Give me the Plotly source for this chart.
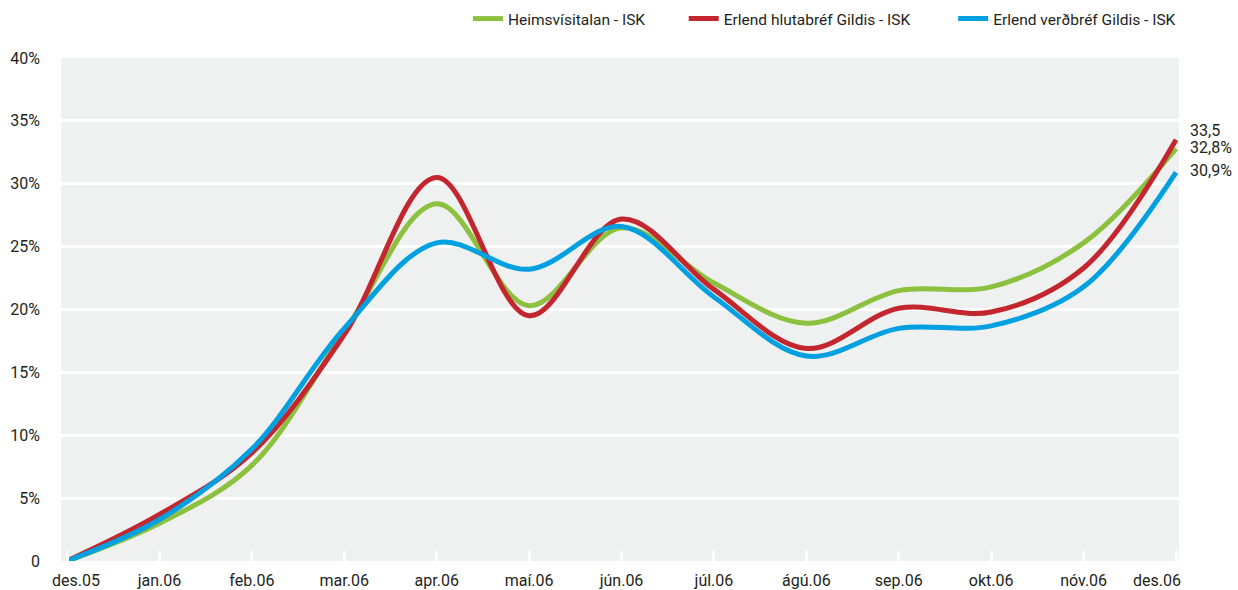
import plotly.graph_objects as go

# monthly points, des.05 -> des.06 (percent)
months = ["des.05", "jan.06", "feb.06", "mar.06", "apr.06", "maí.06", "jún.06",
          "júl.06", "ágú.06", "sep.06", "okt.06", "nóv.06", "des.06"]
heims = [0, 3.0, 7.6, 18.2, 28.4, 20.3, 26.5, 22.1, 18.9, 21.5, 21.8, 25.3, 32.8]
hluta = [0, 3.7, 8.6, 18.0, 30.5, 19.5, 27.2, 21.6, 16.9, 20.1, 19.8, 23.3, 33.5]
verd = [0, 3.3, 8.9, 18.5, 25.3, 23.2, 26.6, 21.0, 16.3, 18.5, 18.7, 21.8, 30.9]

y_ticks = [0, 5, 10, 15, 20, 25, 30, 35, 40]
y_labels = ["0", "5%", "10%", "15%", "20%", "25%", "30%", "35%", "40%"]
end_labels = ["32,8%", "33,5", "30,9%"]

GREEN = "#8cc13f"
RED = "#c3262e"
BLUE = "#00a0e1"
TEXT = "#231f20"
FONT = "Roboto"

series = [
    ("Heimsvísitalan - ISK", heims, GREEN, "legend", 0.364),
    ("Erlend hlutabréf Gildis - ISK", hluta, RED, "legend2", 0.557),
    ("Erlend verðbréf Gildis - ISK", verd, BLUE, "legend3", 0.798),
]

fig = go.Figure()
for name, vals, color, leg, _ in series:
    fig.add_trace(go.Scatter(
        x=months, y=vals, name=name, mode="lines",
        line=dict(color=color, width=5, shape="spline", smoothing=1.0),
        legend=leg, showlegend=True,
    ))

# one legend per series so each entry sits where the original has it
legend_style = dict(orientation="h", yanchor="middle", y=1.0775, xanchor="left",
                    font=dict(family=FONT, size=15.5, color=TEXT),
                    bgcolor="rgba(0,0,0,0)", borderwidth=0)
fig.update_layout(
    showlegend=True,
    legend=dict(x=series[0][4], **legend_style),
    legend2=dict(x=series[1][4], **legend_style),
    legend3=dict(x=series[2][4], **legend_style),
)

# value labels at the right end
shifts = [2, 10, 2]
for (name, vals, color, leg, _), label, ys in zip(series, end_labels, shifts):
    fig.add_annotation(x=months[-1], y=vals[-1], text=label, showarrow=False,
                       xanchor="left", yanchor="middle", xshift=12, yshift=ys,
                       height=16, valign="middle",
                       font=dict(family=FONT, size=16, color=TEXT))

# first and last month labels are pulled inwards
fig.add_annotation(x=months[0], y=0, yref="paper", text=months[0], showarrow=False,
                   xanchor="center", yanchor="top", xshift=9, yshift=-8,
                   font=dict(family=FONT, size=16, color=TEXT))
fig.add_annotation(x=months[-1], y=0, yref="paper", text=months[-1], showarrow=False,
                   xanchor="center", yanchor="top", xshift=-19, yshift=-8,
                   font=dict(family=FONT, size=16, color=TEXT))

tick_text = [""] + months[1:-1] + [""]
fig.update_xaxes(
    type="category", range=[-0.065, 12.032], automargin=False,
    tickvals=months, ticktext=tick_text,
    ticks="inside", ticklen=10, tickwidth=3, tickcolor="white",
    ticklabelstandoff=8,
    showgrid=False, zeroline=False, showline=False,
    tickfont=dict(family=FONT, size=16, color=TEXT),
)
fig.update_yaxes(
    range=[0, 40], tickvals=y_ticks, ticktext=y_labels, automargin=False,
    showgrid=True, gridcolor="white", gridwidth=3,
    zeroline=False, showline=False, ticks="", ticklabelstandoff=20,
    tickfont=dict(family=FONT, size=16, color=TEXT),
)

fig.update_layout(
    width=1238, height=590,
    margin=dict(l=61, r=59, t=58, b=29, autoexpand=False),
    plot_bgcolor="#eff0f0", paper_bgcolor="white",
    font=dict(family=FONT, color=TEXT),
)

fig.write_html("out.html", config={"displayModeBar": False},
               post_script="document.body.style.margin='0';")
